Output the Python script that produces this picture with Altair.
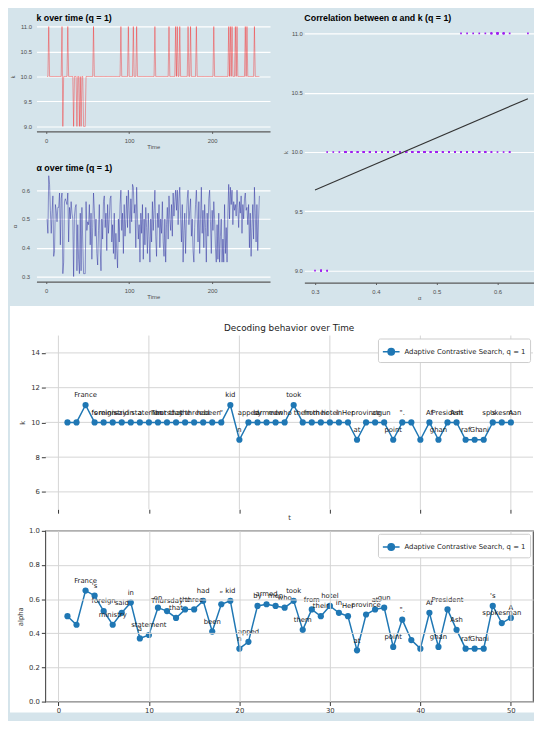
import altair as alt
import pandas as pd

# ---------------- data ----------------
LEGEND_LABEL = "Adaptive Contrastive Search, q = 1"

tokens = ["", "", "France", "'s", "foreign", "ministry", "said", "in", "a", "statement",
          "on", "Thursday", "that", "the", "three", "had", "been", "\u201c", "kid", "n",
          "apped", "by", "armed", "men", "who", "took", "them", "from", "their", "hotel",
          "in", "Her", "at", "province", "at", "gun", "point", "\".", "", "",
          "Af", "ghan", "President", "Ash", "raf", "Gh", "ani", "'s", "spokesman", "A"]

k_first = [10, 10, 11, 10, 10, 10, 10, 10, 10, 10,
           10, 10, 10, 10, 10, 10, 10, 10, 11, 9,
           10, 10, 10, 10, 10, 11, 10, 10, 10, 10,
           10, 10, 9, 10, 10, 10, 9, 10, 10, 9,
           10, 9, 10, 10, 9, 9, 9, 10, 10, 10]

alpha_first = [0.50, 0.45, 0.65, 0.62, 0.53, 0.45, 0.52, 0.58, 0.37, 0.39,
               0.55, 0.53, 0.49, 0.54, 0.54, 0.59, 0.41, 0.57, 0.59, 0.31,
               0.35, 0.56, 0.57, 0.56, 0.55, 0.59, 0.42, 0.54, 0.50, 0.56,
               0.52, 0.50, 0.30, 0.51, 0.54, 0.55, 0.32, 0.48, 0.36, 0.31,
               0.52, 0.32, 0.54, 0.42, 0.31, 0.31, 0.31, 0.56, 0.46, 0.49]

k_rest = [10, 10, 10, 10, 10, 10, 11, 10, 10, 10,
          10, 10, 10, 10, 10, 10, 10, 10, 10, 10,
          10, 10, 10, 10, 10, 10, 10, 10, 10, 10,
          10, 10, 10, 10, 10, 10, 10, 10, 10, 11,
          10, 10, 10, 10, 10, 10, 10, 10, 11, 10,
          10, 10, 10, 10, 11, 10, 10, 10, 11, 10,
          10, 10, 10, 10, 10, 10, 10, 10, 10, 10,
          10, 10, 10, 10, 10, 10, 10, 10, 10, 10,
          11, 10, 10, 10, 10, 10, 10, 10, 10, 10,
          10, 10, 10, 10, 10, 10, 10, 11, 10, 10,
          10, 10, 10, 10, 10, 11, 10, 11, 10, 10,
          11, 10, 10, 10, 10, 10, 10, 10, 10, 10,
          11, 10, 10, 11, 10, 10, 10, 10, 10, 10,
          11, 10, 10, 10, 10, 10, 10, 10, 10, 10,
          10, 10, 10, 10, 10, 10, 10, 10, 10, 10,
          10, 11, 10, 10, 10, 10, 10, 10, 10, 10,
          10, 10, 10, 10, 10, 10, 10, 10, 10, 11,
          10, 11, 10, 11, 10, 10, 10, 11, 10, 11,
          10, 10, 10, 10, 10, 10, 10, 10, 10, 11,
          10, 11, 10, 10, 10, 10, 10, 10, 10, 10,
          11, 10, 10, 10, 10, 10, 10]

alpha_rest = [0.48, 0.55, 0.41, 0.52, 0.36, 0.47, 0.59, 0.53, 0.44, 0.50,
              0.38, 0.34, 0.46, 0.55, 0.40, 0.32, 0.50, 0.43, 0.56, 0.58,
              0.47, 0.52, 0.39, 0.55, 0.45, 0.50, 0.57, 0.58, 0.42, 0.48,
              0.38, 0.52, 0.36, 0.45, 0.39, 0.33, 0.50, 0.42, 0.55, 0.60,
              0.46, 0.52, 0.38, 0.55, 0.44, 0.50, 0.58, 0.47, 0.60, 0.53,
              0.45, 0.57, 0.49, 0.62, 0.61, 0.52, 0.55, 0.40, 0.61, 0.50,
              0.43, 0.48, 0.35, 0.52, 0.45, 0.55, 0.36, 0.50, 0.41, 0.54,
              0.47, 0.38, 0.52, 0.44, 0.35, 0.50, 0.42, 0.56, 0.46, 0.53,
              0.60, 0.44, 0.37, 0.52, 0.47, 0.55, 0.40, 0.50, 0.45, 0.56,
              0.42, 0.37, 0.50, 0.35, 0.48, 0.54, 0.43, 0.58, 0.50, 0.46,
              0.55, 0.44, 0.59, 0.51, 0.56, 0.60, 0.53, 0.60, 0.48, 0.57,
              0.61, 0.50, 0.42, 0.55, 0.35, 0.46, 0.52, 0.38, 0.50, 0.57,
              0.60, 0.48, 0.53, 0.57, 0.44, 0.50, 0.39, 0.35, 0.47, 0.55,
              0.60, 0.51, 0.42, 0.56, 0.38, 0.50, 0.61, 0.45, 0.53, 0.40,
              0.55, 0.47, 0.35, 0.52, 0.44, 0.57, 0.60, 0.49, 0.38, 0.53,
              0.46, 0.56, 0.50, 0.40, 0.35, 0.48, 0.36, 0.52, 0.35, 0.44,
              0.50, 0.35, 0.43, 0.35, 0.55, 0.38, 0.47, 0.35, 0.52, 0.62,
              0.50, 0.61, 0.55, 0.60, 0.48, 0.56, 0.53, 0.55, 0.51, 0.60,
              0.54, 0.47, 0.56, 0.52, 0.58, 0.45, 0.55, 0.50, 0.57, 0.59,
              0.53, 0.54, 0.48, 0.55, 0.40, 0.52, 0.37, 0.47, 0.55, 0.43,
              0.61, 0.52, 0.42, 0.55, 0.39, 0.50, 0.58]

reg_alpha = [0.30, 0.65]
reg_k = [9.68, 10.45]

k_ticks = [9.0, 9.5, 10.0, 10.5, 11.0]
alpha_ticks_top = [0.3, 0.4, 0.5, 0.6]
time_ticks = [0, 100, 200]
corr_x_ticks = [0.3, 0.4, 0.5, 0.6]
t_ticks_bottom = [0, 10, 20, 30, 40, 50]
k_ticks_bottom = [6, 8, 10, 12, 14]
alpha_ticks_bottom = [0.0, 0.2, 0.4, 0.6, 0.8, 1.0]

# ---------------- tables ----------------
k_all = k_first + k_rest
alpha_all = alpha_first + alpha_rest
df_top = pd.DataFrame({"t": list(range(1, len(k_all) + 1)), "k": k_all, "alpha": alpha_all})
df_reg = pd.DataFrame({"alpha": reg_alpha, "k": reg_k})
df_b = pd.DataFrame({"t": list(range(1, len(k_first) + 1)), "k": k_first,
                     "alpha": alpha_first, "token": tokens,
                     "series": [LEGEND_LABEL] * len(k_first)})

FONT_TOP = "Liberation Sans"
FONT_BOT = "DejaVu Sans"
BG = "#d5e4eb"
GRAY = "#4d4d4d"


# ---------------- top half (ggplot economist look) ----------------
def top_x_axis(title, values, fmt=None):
    kw = dict(title=title, values=values, grid=False, domainColor="#5a5a5a", domainWidth=1.2,
              tickColor="#5a5a5a", tickSize=2, tickWidth=1, labelFont=FONT_TOP, labelFontSize=6,
              labelColor=GRAY, labelPadding=4, titleFont=FONT_TOP, titleFontSize=6,
              titleFontWeight="normal", titleColor=GRAY, titlePadding=0)
    if fmt:
        kw["format"] = fmt
    return alt.Axis(**kw)


def top_y_axis(title, values, label_pad, title_pad):
    return alt.Axis(title=title, values=values, format=".1f", grid=True, gridColor="white",
                    gridWidth=1.2, domain=False, ticks=False, labelFont=FONT_TOP, labelFontSize=6,
                    labelColor=GRAY, labelPadding=label_pad, titleFont=FONT_TOP, titleFontSize=6,
                    titleFontWeight="normal", titleColor=GRAY, titlePadding=title_pad)


def top_title(text, offset):
    return alt.TitleParams(text, anchor="start", frame="group", font=FONT_TOP, fontSize=9,
                           fontWeight="bold", color="black", offset=offset)


time_scale = alt.Scale(domain=[-11.8, 269.8], nice=False, zero=False)
k_scale = alt.Scale(domain=[8.9, 11.1], nice=False, zero=False)

k_time = alt.Chart(df_top).mark_line(color="#ff0000", opacity=0.45, strokeWidth=0.8).encode(
    x=alt.X("t:Q", scale=time_scale, axis=top_x_axis("Time", time_ticks)),
    y=alt.Y("k:Q", scale=k_scale, axis=top_y_axis("k", k_ticks, 5, 5))
).properties(width=238, height=112, title=top_title("k over time (q = 1)", -1))

alpha_time = alt.Chart(df_top).mark_line(color="#1f1f99", opacity=0.65, strokeWidth=0.7).encode(
    x=alt.X("t:Q", scale=time_scale, axis=top_x_axis("Time", time_ticks)),
    y=alt.Y("alpha:Q", scale=alt.Scale(domain=[0.2825, 0.6675], nice=False, zero=False),
            axis=top_y_axis("\u03b1", alpha_ticks_top, 7, 4))
).properties(width=238, height=113, title=top_title("\u03b1 over time (q = 1)", -2.5))

corr_x = alt.Scale(domain=[0.2825, 0.66], nice=False, zero=False)
corr_pts = alt.Chart(df_top).mark_square(size=3, color="#a020f0", opacity=1).encode(
    x=alt.X("alpha:Q", scale=corr_x, axis=top_x_axis("\u03b1", corr_x_ticks, ".1f")),
    y=alt.Y("k:Q", scale=k_scale, axis=top_y_axis("k", k_ticks, 2, 3)))
corr_line = alt.Chart(df_reg).mark_line(color="#333333", strokeWidth=1.1).encode(
    x=alt.X("alpha:Q", scale=corr_x, axis=top_x_axis("\u03b1", corr_x_ticks, ".1f")),
    y=alt.Y("k:Q", scale=k_scale, axis=top_y_axis("k", k_ticks, 2, 3)))
corr = alt.layer(corr_pts, corr_line).properties(
    width=234, height=266, title=top_title("Correlation between \u03b1 and k (q = 1)", -1))

left_col = alt.vconcat(k_time, alpha_time, spacing=14)
top = alt.hconcat(left_col, corr, spacing=10)

# ---------------- bottom half (matplotlib look) ----------------
xs_b = alt.Scale(domain=[-1.45, 52.45], nice=False, zero=False)
kb_scale = alt.Scale(domain=[5, 15], nice=False, zero=False)
ab_scale = alt.Scale(domain=[0, 1], nice=False, zero=False)
GRID = "#d4d4d4"
KB_H = 177
AB_H = 174


def bot_x_axis(show_labels, grid):
    kw = dict(values=t_ticks_bottom, grid=grid, gridColor=GRID, gridWidth=1, domain=False,
              tickColor="#333333", tickSize=4, tickWidth=1, labelFont=FONT_BOT, labelFontSize=7,
              labelColor="#333333", labelPadding=1, titleFont=FONT_BOT, titleFontSize=7,
              titleFontWeight="normal", titleColor="#333333", titlePadding=0, zindex=1)
    if show_labels:
        kw["title"] = None
    else:
        kw["labels"] = False
        kw["title"] = "t"
    return alt.Axis(**kw)


def bot_y_axis(title, values, fmt, grid):
    return alt.Axis(title=title, values=values, format=fmt, grid=grid, gridColor=GRID,
                    gridWidth=1, domain=False, tickColor="#333333", tickSize=4, tickWidth=1,
                    labelFont=FONT_BOT, labelFontSize=7, labelColor="#333333", labelPadding=2,
                    titleFont=FONT_BOT, titleFontSize=7, titleFontWeight="normal",
                    titleColor="#333333", titlePadding=5, zindex=1)


legend = alt.Legend(title=None, orient="top-right", offset=3, fillColor="white",
                    strokeColor="#cccccc", cornerRadius=2, padding=4, zindex=1,
                    symbolType="M-1,0H1M0.38,0A0.38,0.38,0,1,1,-0.38,0A0.38,0.38,0,1,1,0.38,0Z",
                    symbolSize=290, symbolStrokeWidth=1.5, symbolFillColor="#1f77b4",
                    symbolStrokeColor="#1f77b4", labelFont=FONT_BOT, labelFontSize=7,
                    labelColor="#222222")
color_b = alt.Color("series:N", scale=alt.Scale(domain=[LEGEND_LABEL], range=["#1f77b4"]),
                    legend=legend)


def series_layers(field, yscale, yaxis, xaxis):
    base = alt.Chart(df_b).encode(
        x=alt.X("t:Q", scale=xs_b, axis=xaxis),
        y=alt.Y(f"{field}:Q", scale=yscale, axis=yaxis))
    line = base.mark_line(strokeWidth=1.5).encode(color=color_b)
    pts = base.mark_circle(size=40, opacity=1).encode(color=color_b)
    txt = base.mark_text(dy=-10, fontSize=7, font=FONT_BOT, color="#1a1a1a").encode(text="token:N")
    return [line, pts, txt]


kb_yaxis = bot_y_axis("k", k_ticks_bottom, "d", False)
kb_xaxis = bot_x_axis(False, False)
# white sheet behind the lower (matplotlib) half of the figure
white = alt.Chart(pd.DataFrame({"k": [10]})).mark_rect(color="white").encode(
    x=alt.value(-36), x2=alt.value(498), y=alt.value(-30), y2=alt.value(384))
kb_ygrid = alt.Chart(pd.DataFrame({"k": k_ticks_bottom})).mark_rule(
    color=GRID, strokeWidth=1).encode(
    y=alt.Y("k:Q", scale=kb_scale, axis=kb_yaxis), x=alt.value(0), x2=alt.value(497))
kb_xgrid = alt.Chart(pd.DataFrame({"t": t_ticks_bottom})).mark_rule(
    color=GRID, strokeWidth=1).encode(
    x=alt.X("t:Q", scale=xs_b, axis=kb_xaxis), y=alt.value(0), y2=alt.value(KB_H))

k_bot = alt.layer(white, kb_ygrid, kb_xgrid,
                  *series_layers("k", kb_scale, kb_yaxis, kb_xaxis)).properties(
    width=497, height=KB_H, view=alt.ViewBackground(stroke="#555555", strokeWidth=1.2),
    title=alt.TitleParams("Decoding behavior over Time", anchor="middle", frame="group",
                          font=FONT_BOT, fontSize=9, fontWeight="normal", color="#222222",
                          offset=-27.5, zindex=1))

a_bot = alt.layer(*series_layers("alpha", ab_scale,
                                 bot_y_axis("alpha", alpha_ticks_bottom, ".1f", True),
                                 bot_x_axis(True, True))).properties(
    width=497, height=AB_H, view=alt.ViewBackground(stroke="#555555", strokeWidth=1.2))


def spacer(w, h):
    return alt.Chart(pd.DataFrame({"s": [0]})).mark_point(opacity=0).encode(
        x=alt.value(0), y=alt.value(0)).properties(width=w, height=h)


# 2-column grid: a narrow empty column shifts the lower plots 9 px to the right
bottom = alt.concat(spacer(9, KB_H), k_bot, spacer(9, AB_H), a_bot, columns=2,
                    spacing={"row": 22, "column": 0}, bounds="flush").resolve_scale(
    color="independent").resolve_legend(color="independent")

chart = alt.concat(top, bottom, columns=1, spacing=4, align="none").resolve_scale(
    color="independent").resolve_legend(color="independent").properties(
    padding={"left": 0, "top": -2, "right": -1, "bottom": 0},
    background=BG).configure_view(stroke="transparent")

chart.save("out.html", embed_options={"renderer": "svg", "actions": False})
